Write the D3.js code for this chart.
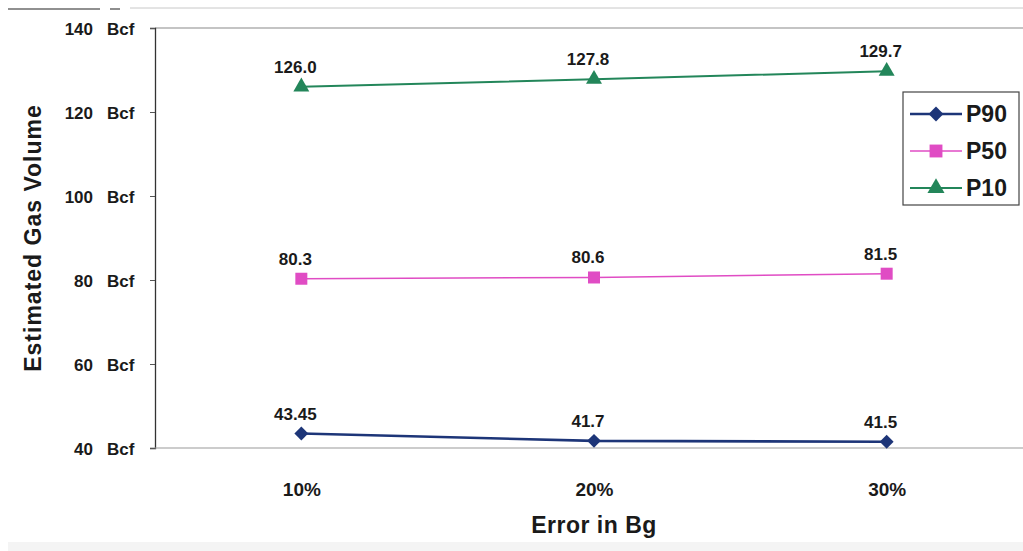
<!DOCTYPE html>
<html>
<head>
<meta charset="utf-8">
<script src="https://cdn.jsdelivr.net/npm/d3@7/dist/d3.min.js"></script>
<style>
  html, body { margin: 0; padding: 0; background: #ffffff; }
  svg { display: block; font-family: Arial, "Liberation Sans", sans-serif; }
</style>
</head>
<body>
<svg id="chart" width="1023" height="551"></svg>
<script>
// Error levels on Bg and the estimated volumes (Bcf) for each percentile case
const categories = ["10%", "20%", "30%"];
const p90 = [43.45, 41.7, 41.5];
const p50 = [80.3, 80.6, 81.5];
const p10 = [126.0, 127.8, 129.7];
const p90Labels = ["43.45", "41.7", "41.5"];
const p50Labels = ["80.3", "80.6", "81.5"];
const p10Labels = ["126.0", "127.8", "129.7"];
const yTicks = [40, 60, 80, 100, 120, 140];

const series = [
  { name: "P90", values: p90, labels: p90Labels, color: "#1d3578", width: 2.6, symbol: d3.symbolSquare, rotate: 45, size: 96 },
  { name: "P50", values: p50, labels: p50Labels, color: "#e04cc4", width: 1.5, symbol: d3.symbolSquare, rotate: 0, size: 144 },
  { name: "P10", values: p10, labels: p10Labels, color: "#23865a", width: 2.0, symbol: d3.symbolTriangle, rotate: 0, size: 110 }
];

const svg = d3.select("#chart");
const plotLeft = 155, plotTop = 28, plotBottom = 448;

const x = d3.scalePoint().domain(categories).range([plotLeft, 1033]).padding(0.5);
const y = d3.scaleLinear().domain([40, 140]).range([plotBottom, plotTop]);

// faint page edges
svg.append("line").attr("x1", 8).attr("x2", 100).attr("y1", 9).attr("y2", 9)
  .attr("stroke", "#222").attr("stroke-width", 1.2);
svg.append("line").attr("x1", 110).attr("x2", 120).attr("y1", 9).attr("y2", 9)
  .attr("stroke", "#444").attr("stroke-width", 1.2);
svg.append("line").attr("x1", 130).attr("x2", 1023).attr("y1", 8).attr("y2", 8)
  .attr("stroke", "#c8c8c8").attr("stroke-width", 1);
svg.append("rect").attr("x", 8).attr("y", 542).attr("width", 1015).attr("height", 9)
  .attr("fill", "#f4f4f4");

// plot frame (top edge)
svg.append("line").attr("x1", plotLeft).attr("x2", 1023).attr("y1", plotTop).attr("y2", plotTop)
  .attr("stroke", "#8a8a8a").attr("stroke-width", 1.2);

// Y axis: number and unit drawn as two columns
const yAxis = d3.axisLeft(y).tickValues(yTicks).tickSize(5).tickFormat(d => d);
const gy = svg.append("g").attr("transform", `translate(${plotLeft},0)`).call(yAxis);
gy.select(".domain").attr("stroke", "#333").attr("stroke-width", 1.3);
gy.selectAll(".tick line").attr("stroke", "#555");
gy.selectAll(".tick text").remove();
gy.selectAll(".tick").append("text")
  .attr("x", -62).attr("dy", "0.36em")
  .attr("text-anchor", "end")
  .attr("fill", "#1a1a1a")
  .style("font-size", "17px").style("font-weight", "bold")
  .text(d => d);
gy.selectAll(".tick").append("text")
  .attr("x", -48).attr("dy", "0.36em")
  .attr("text-anchor", "start")
  .attr("fill", "#1a1a1a")
  .style("font-size", "17px").style("font-weight", "bold")
  .text("Bcf");

// X axis
const xAxis = d3.axisBottom(x).tickSize(0).tickPadding(35);
const gx = svg.append("g").attr("transform", `translate(0,${plotBottom})`).call(xAxis);
gx.select(".domain").attr("stroke", "#9a9a9a").attr("stroke-width", 1.2)
  .attr("d", `M${plotLeft},0H1023`);
gx.selectAll(".tick text")
  .attr("fill", "#1a1a1a")
  .style("font-size", "19px").style("font-weight", "bold");

// axis titles
svg.append("text")
  .attr("transform", "translate(41,238) rotate(-90)")
  .attr("text-anchor", "middle")
  .attr("fill", "#1a1a1a")
  .style("font-size", "23px").style("font-weight", "bold")
  .style("letter-spacing", "1px")
  .text("Estimated Gas Volume");
svg.append("text")
  .attr("x", 594).attr("y", 533)
  .attr("text-anchor", "middle")
  .attr("fill", "#1a1a1a")
  .style("font-size", "23px").style("font-weight", "bold")
  .style("letter-spacing", "0.5px")
  .text("Error in Bg");

// series lines, markers and value labels
const line = d3.line().x((d, i) => x(categories[i])).y(d => y(d));
series.forEach(s => {
  const g = svg.append("g");
  g.append("path").datum(s.values)
    .attr("d", line).attr("fill", "none")
    .attr("stroke", s.color).attr("stroke-width", s.width);
  g.selectAll("path.mark").data(s.values).join("path")
    .attr("class", "mark")
    .attr("transform", (d, i) => `translate(${x(categories[i])},${y(d)}) rotate(${s.rotate})`)
    .attr("d", d3.symbol().type(s.symbol).size(s.size))
    .attr("fill", s.color);
  g.selectAll("text").data(s.values).join("text")
    .attr("x", (d, i) => x(categories[i]) - 6)
    .attr("y", d => y(d) - 14)
    .attr("text-anchor", "middle")
    .attr("fill", "#1a1a1a")
    .style("font-size", "17px").style("font-weight", "bold")
    .text((d, i) => s.labels[i]);
});

// legend
const lg = svg.append("g").attr("transform", "translate(903,92)");
lg.append("rect").attr("width", 116).attr("height", 113)
  .attr("fill", "#ffffff").attr("stroke", "#444").attr("stroke-width", 1.2);
series.forEach((s, i) => {
  const cy = 22 + i * 37;
  lg.append("line").attr("x1", 7).attr("x2", 59).attr("y1", cy).attr("y2", cy)
    .attr("stroke", s.color).attr("stroke-width", s.width);
  lg.append("path").attr("transform", `translate(33,${cy}) rotate(${s.rotate})`)
    .attr("d", d3.symbol().type(s.symbol).size(s.size * 1.15)).attr("fill", s.color);
  lg.append("text").attr("x", 63).attr("y", cy).attr("dy", "0.36em")
    .attr("fill", "#1a1a1a")
    .style("font-size", "23px").style("font-weight", "bold")
    .text(s.name);
});
</script>
</body>
</html>
